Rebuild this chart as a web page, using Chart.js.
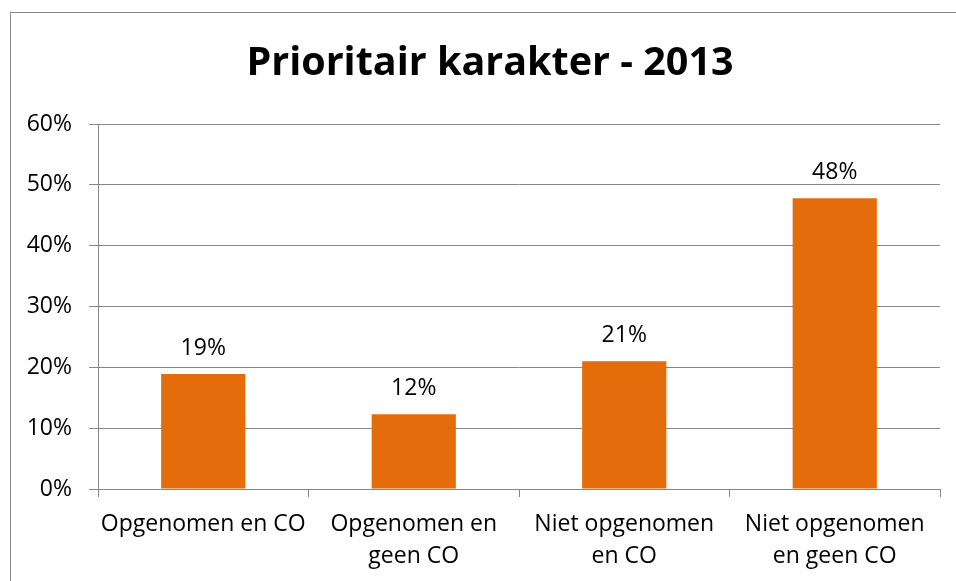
<!DOCTYPE html>
<html>
<head>
<meta charset="utf-8">
<script src="https://cdn.jsdelivr.net/npm/chart.js@4"></script>
<style>
  html, body { margin: 0; padding: 0; width: 956px; height: 581px; overflow: hidden; background: #fff; }
  .frame { position: absolute; left: 9.5px; top: 11.5px; width: 1000px; height: 1000px; border: 1.5px solid #898989; }
  .wrap { position: absolute; left: 0; top: 0; width: 980px; height: 581px; }
</style>
</head>
<body>
<div class="frame"></div>
<div class="wrap"><canvas id="chart"></canvas></div>
<script>
const labels = [
  ['Opgenomen en CO'],
  ['Opgenomen en', 'geen CO'],
  ['Niet opgenomen', 'en CO'],
  ['Niet opgenomen', 'en geen CO']
];
const values = [0.189, 0.123, 0.21, 0.478];
const yTicks = [0, 0.1, 0.2, 0.3, 0.4, 0.5, 0.6];
const titleText = 'Prioritair karakter - 2013';

const FONT = "'Open Sans', 'Noto Sans', sans-serif";
const GRID = '#868686';

const pct = v => Math.round(v * 100) + '%';

// labels above each bar
const valueLabels = {
  id: 'valueLabels',
  afterDatasetsDraw(chart) {
    const ctx = chart.ctx;
    const meta = chart.getDatasetMeta(0);
    ctx.save();
    ctx.font = '23px ' + FONT;
    ctx.fillStyle = '#000';
    ctx.textAlign = 'center';
    ctx.textBaseline = 'middle';
    meta.data.forEach((bar, i) => {
      ctx.fillText(pct(values[i]), bar.x, bar.y - 26);
    });
    ctx.restore();
  }
};

const ctx = document.getElementById('chart').getContext('2d');
new Chart(ctx, {
  type: 'bar',
  data: {
    labels: labels,
    datasets: [{
      data: values,
      backgroundColor: '#E46C0A',
      borderWidth: 0,
      barPercentage: 0.4,
      categoryPercentage: 1
    }]
  },
  options: {
    responsive: true,
    maintainAspectRatio: false,
    animation: false,
    layout: { padding: 0 },
    plugins: {
      legend: { display: false },
      tooltip: { enabled: false },
      title: {
        display: true,
        text: titleText,
        color: '#000',
        font: { family: FONT, size: 39.5, weight: 'bold', lineHeight: 1.2 },
        padding: { top: 40, bottom: 36.6 }
      }
    },
    scales: {
      x: {
        grid: {
          offset: true,
          drawOnChartArea: false,
          drawTicks: true,
          tickLength: 8,
          color: GRID
        },
        border: { color: GRID, width: 1 },
        ticks: {
          color: '#000',
          padding: 12,
          maxRotation: 0,
          autoSkip: false,
          font: { family: FONT, size: 23, lineHeight: 1.38 }
        },
        afterFit(scale) { scale.height = 92; }
      },
      y: {
        min: 0,
        max: 0.6,
        afterBuildTicks(scale) { scale.ticks = yTicks.map(v => ({ value: v })); },
        grid: { color: GRID, tickLength: 9, drawTicks: true },
        border: { color: GRID, width: 1 },
        ticks: {
          color: '#000',
          padding: 17,
          font: { family: FONT, size: 23 },
          callback: v => pct(v)
        },
        afterFit(scale) { scale.width = 98; }
      },
      // empty right-hand space so the title stays centred on the whole frame
      pad: {
        position: 'right',
        display: true,
        grid: { display: false },
        border: { display: false },
        ticks: { display: false },
        afterFit(scale) { scale.width = 40; }
      }
    }
  },
  plugins: [valueLabels]
});
</script>
</body>
</html>
